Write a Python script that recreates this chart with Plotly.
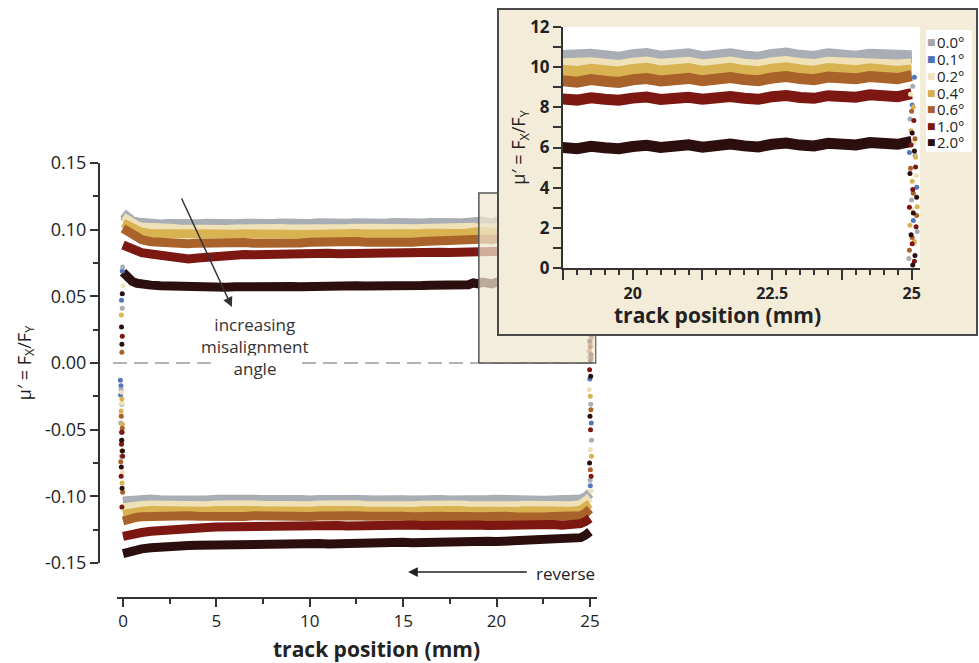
import plotly.graph_objects as go

# ---------------- data ----------------
ANGLES = ["0.0°", "0.1°", "0.2°", "0.4°", "0.6°", "1.0°", "2.0°"]
COLORS = ["#a9adb4", "#5677bb", "#efe2b8", "#d9b352", "#a8622a", "#7c1711", "#2c0e0f"]
LEGEND_COLORS = ["#a6a6a6", "#4f72b8", "#efe4c2", "#d6b04c", "#a6602c", "#7c1410", "#2a0e10"]

# forward sweep, track positions (mm)
X_FWD = [0, 0.25, 0.5, 0.75, 1, 1.5, 2, 2.5, 3, 3.5, 4, 4.5, 5, 5.5, 6, 6.5, 7, 7.5, 8, 8.5,
         9, 9.5, 10, 10.5, 11, 11.5, 12, 12.5, 13, 13.5, 14, 14.5, 15, 15.5, 16, 16.5, 17, 17.5, 18, 18.5,
         18.75, 19, 19.25, 19.5, 19.75, 20, 20.25, 20.5, 20.75, 21, 21.25, 21.5, 21.75, 22, 22.25, 22.5,
         22.75, 23, 23.25, 23.5, 23.75, 24, 24.25, 24.5, 24.75, 25]

F00 = [0.1125, 0.1088, 0.1068, 0.1058, 0.1052, 0.1046, 0.1043, 0.1047, 0.1042, 0.1040,
       0.1045, 0.1048, 0.1043, 0.1040, 0.1044, 0.1049, 0.1045, 0.1041, 0.1046, 0.1050,
       0.1045, 0.1042, 0.1047, 0.1051, 0.1046, 0.1043, 0.1048, 0.1052, 0.1047, 0.1044,
       0.1049, 0.1053, 0.1048, 0.1045, 0.1050, 0.1054, 0.1049, 0.1046, 0.1051, 0.1055,
       0.1060, 0.1053, 0.1064, 0.1057, 0.1049, 0.1062, 0.1068, 0.1055, 0.1061, 0.1066,
       0.1052, 0.1058, 0.1067, 0.1056, 0.1050, 0.1063, 0.1070, 0.1059, 0.1053, 0.1066,
       0.1061, 0.1055, 0.1064, 0.1058, 0.1051, 0.1057]
F01 = [0.1105, 0.1075, 0.1060, 0.1050, 0.1044, 0.1039, 0.1036, 0.1040, 0.1037, 0.1034,
       0.1038, 0.1041, 0.1037, 0.1035, 0.1039, 0.1042, 0.1038, 0.1036, 0.1040, 0.1043,
       0.1039, 0.1037, 0.1041, 0.1044, 0.1040, 0.1038, 0.1042, 0.1045, 0.1041, 0.1039,
       0.1043, 0.1046, 0.1042, 0.1040, 0.1044, 0.1047, 0.1043, 0.1041, 0.1045, 0.1048,
       0.1050, 0.1044, 0.1055, 0.1047, 0.1041, 0.1053, 0.1058, 0.1046, 0.1051, 0.1056,
       0.1043, 0.1049, 0.1057, 0.1047, 0.1042, 0.1054, 0.1060, 0.1050, 0.1045, 0.1056,
       0.1052, 0.1046, 0.1055, 0.1049, 0.1043, 0.1047]
F02 = [0.1095, 0.1070, 0.1045, 0.1030, 0.1020, 0.1012, 0.1007, 0.1010, 0.1005, 0.1002,
       0.1006, 0.1009, 0.1004, 0.1001, 0.1005, 0.1008, 0.1004, 0.1002, 0.1006, 0.1009,
       0.1005, 0.1003, 0.1007, 0.1010, 0.1006, 0.1004, 0.1008, 0.1011, 0.1007, 0.1005,
       0.1009, 0.1012, 0.1008, 0.1006, 0.1010, 0.1013, 0.1009, 0.1007, 0.1011, 0.1014,
       0.1018, 0.1012, 0.1022, 0.1015, 0.1009, 0.1020, 0.1025, 0.1014, 0.1019, 0.1024,
       0.1011, 0.1017, 0.1025, 0.1015, 0.1010, 0.1022, 0.1028, 0.1018, 0.1013, 0.1024,
       0.1020, 0.1014, 0.1023, 0.1017, 0.1011, 0.1016]
F04 = [0.1050, 0.1030, 0.1005, 0.0990, 0.0980, 0.0972, 0.0968, 0.0971, 0.0966, 0.0963,
       0.0967, 0.0970, 0.0965, 0.0962, 0.0966, 0.0969, 0.0965, 0.0963, 0.0967, 0.0970,
       0.0966, 0.0964, 0.0968, 0.0971, 0.0967, 0.0965, 0.0969, 0.0972, 0.0968, 0.0966,
       0.0970, 0.0973, 0.0969, 0.0967, 0.0971, 0.0974, 0.0970, 0.0968, 0.0972, 0.0975,
       0.0985, 0.0978, 0.0990, 0.0982, 0.0976, 0.0988, 0.0994, 0.0981, 0.0987, 0.0993,
       0.0979, 0.0985, 0.0994, 0.0983, 0.0977, 0.0990, 0.0997, 0.0986, 0.0980, 0.0993,
       0.0988, 0.0982, 0.0992, 0.0985, 0.0979, 0.0986]
F06 = [0.1010, 0.0985, 0.0960, 0.0940, 0.0925, 0.0910, 0.0902, 0.0905, 0.0898, 0.0895,
       0.0899, 0.0902, 0.0897, 0.0895, 0.0900, 0.0904, 0.0899, 0.0897, 0.0902, 0.0906,
       0.0902, 0.0900, 0.0905, 0.0909, 0.0904, 0.0902, 0.0907, 0.0911, 0.0906, 0.0904,
       0.0909, 0.0913, 0.0908, 0.0906, 0.0911, 0.0915, 0.0910, 0.0908, 0.0913, 0.0917,
       0.0932, 0.0925, 0.0938, 0.0930, 0.0924, 0.0937, 0.0943, 0.0931, 0.0938, 0.0944,
       0.0932, 0.0939, 0.0948, 0.0938, 0.0933, 0.0946, 0.0953, 0.0943, 0.0938, 0.0951,
       0.0947, 0.0942, 0.0953, 0.0947, 0.0943, 0.0958]
F10 = [0.0885, 0.0868, 0.0852, 0.0838, 0.0828, 0.0818, 0.0808, 0.0795, 0.0786, 0.0780,
       0.0788, 0.0796, 0.0802, 0.0806, 0.0810, 0.0813, 0.0811, 0.0814, 0.0817, 0.0815,
       0.0818, 0.0820, 0.0817, 0.0821, 0.0823, 0.0820, 0.0822, 0.0825, 0.0822, 0.0824,
       0.0827, 0.0824, 0.0826, 0.0829, 0.0826, 0.0828, 0.0831, 0.0828, 0.0830, 0.0833,
       0.0842, 0.0836, 0.0847, 0.0840, 0.0835, 0.0846, 0.0851, 0.0839, 0.0845, 0.0850,
       0.0840, 0.0846, 0.0854, 0.0845, 0.0840, 0.0853, 0.0859, 0.0849, 0.0845, 0.0858,
       0.0855, 0.0850, 0.0862, 0.0857, 0.0853, 0.0868]
F20 = [0.0680, 0.0640, 0.0612, 0.0598, 0.0590, 0.0584, 0.0580, 0.0576, 0.0573, 0.0571,
       0.0569, 0.0572, 0.0570, 0.0568, 0.0571, 0.0574, 0.0571, 0.0569, 0.0573, 0.0576,
       0.0573, 0.0571, 0.0575, 0.0578, 0.0575, 0.0573, 0.0577, 0.0580, 0.0577, 0.0575,
       0.0579, 0.0582, 0.0579, 0.0577, 0.0581, 0.0584, 0.0581, 0.0579, 0.0583, 0.0587,
       0.0600, 0.0594, 0.0606, 0.0599, 0.0594, 0.0605, 0.0611, 0.0600, 0.0607, 0.0613,
       0.0602, 0.0609, 0.0617, 0.0608, 0.0603, 0.0616, 0.0622, 0.0612, 0.0608, 0.0621,
       0.0618, 0.0613, 0.0625, 0.0620, 0.0616, 0.0630]

# reverse sweep
X_REV = [0, 0.25, 0.5, 0.75, 1, 1.5, 2, 2.5, 3, 3.5, 4, 4.5, 5, 5.5, 6, 6.5, 7, 7.5, 8, 8.5,
         9, 9.5, 10, 10.5, 11, 11.5, 12, 12.5, 13, 13.5, 14, 14.5, 15, 15.5, 16, 16.5, 17, 17.5,
         18, 18.5, 19, 19.5, 20, 20.5, 21, 21.5, 22, 22.5, 23, 23.5, 24, 24.5, 24.75, 25]
R00 = [-0.1035, -0.1030, -0.1027, -0.1025, -0.1024, -0.1021, -0.1025, -0.1028, -0.1023, -0.1020,
       -0.1024, -0.1027, -0.1022, -0.1019, -0.1023, -0.1026, -0.1021, -0.1024, -0.1028, -0.1023,
       -0.1020, -0.1024, -0.1027, -0.1022, -0.1019, -0.1023, -0.1026, -0.1021, -0.1025, -0.1029,
       -0.1024, -0.1021, -0.1025, -0.1028, -0.1023, -0.1020, -0.1024, -0.1027, -0.1022, -0.1026,
       -0.1029, -0.1024, -0.1021, -0.1025, -0.1028, -0.1023, -0.1026, -0.1030, -0.1027, -0.1025,
       -0.1028, -0.1020, -0.1005, -0.0975]
R01 = [-0.1040, -0.1036, -0.1032, -0.1030, -0.1029, -0.1026, -0.1030, -0.1033, -0.1028, -0.1025,
       -0.1029, -0.1032, -0.1027, -0.1024, -0.1028, -0.1031, -0.1026, -0.1029, -0.1033, -0.1028,
       -0.1025, -0.1029, -0.1032, -0.1027, -0.1024, -0.1028, -0.1031, -0.1026, -0.1030, -0.1034,
       -0.1029, -0.1026, -0.1030, -0.1033, -0.1028, -0.1025, -0.1029, -0.1032, -0.1027, -0.1031,
       -0.1034, -0.1029, -0.1026, -0.1030, -0.1033, -0.1028, -0.1031, -0.1035, -0.1032, -0.1030,
       -0.1033, -0.1026, -0.1010, -0.0980]
R02 = [-0.1085, -0.1078, -0.1073, -0.1070, -0.1068, -0.1065, -0.1068, -0.1071, -0.1066, -0.1063,
       -0.1067, -0.1070, -0.1065, -0.1062, -0.1066, -0.1069, -0.1064, -0.1067, -0.1071, -0.1066,
       -0.1063, -0.1067, -0.1070, -0.1065, -0.1062, -0.1066, -0.1069, -0.1064, -0.1068, -0.1072,
       -0.1067, -0.1064, -0.1068, -0.1071, -0.1066, -0.1063, -0.1067, -0.1070, -0.1065, -0.1069,
       -0.1072, -0.1067, -0.1064, -0.1068, -0.1071, -0.1066, -0.1069, -0.1073, -0.1070, -0.1068,
       -0.1070, -0.1062, -0.1045, -0.1010]
R04 = [-0.1135, -0.1125, -0.1118, -0.1114, -0.1111, -0.1107, -0.1110, -0.1113, -0.1108, -0.1105,
       -0.1109, -0.1112, -0.1107, -0.1104, -0.1108, -0.1111, -0.1106, -0.1109, -0.1113, -0.1108,
       -0.1105, -0.1109, -0.1112, -0.1107, -0.1104, -0.1108, -0.1111, -0.1106, -0.1110, -0.1114,
       -0.1109, -0.1106, -0.1110, -0.1113, -0.1108, -0.1105, -0.1109, -0.1112, -0.1107, -0.1111,
       -0.1114, -0.1109, -0.1106, -0.1110, -0.1113, -0.1108, -0.1111, -0.1115, -0.1112, -0.1110,
       -0.1112, -0.1104, -0.1088, -0.1055]
R06 = [-0.1185, -0.1172, -0.1163, -0.1157, -0.1153, -0.1148, -0.1150, -0.1153, -0.1148, -0.1145,
       -0.1149, -0.1152, -0.1147, -0.1144, -0.1148, -0.1151, -0.1146, -0.1149, -0.1153, -0.1148,
       -0.1145, -0.1149, -0.1152, -0.1147, -0.1144, -0.1148, -0.1151, -0.1146, -0.1150, -0.1154,
       -0.1149, -0.1146, -0.1150, -0.1153, -0.1148, -0.1145, -0.1149, -0.1152, -0.1147, -0.1151,
       -0.1154, -0.1149, -0.1146, -0.1150, -0.1153, -0.1148, -0.1151, -0.1155, -0.1152, -0.1150,
       -0.1152, -0.1145, -0.1128, -0.1095]
R10 = [-0.1300, -0.1290, -0.1282, -0.1276, -0.1271, -0.1262, -0.1255, -0.1248, -0.1242, -0.1238,
       -0.1236, -0.1233, -0.1230, -0.1228, -0.1231, -0.1227, -0.1224, -0.1228, -0.1225, -0.1222,
       -0.1226, -0.1223, -0.1220, -0.1224, -0.1221, -0.1218, -0.1222, -0.1219, -0.1223, -0.1220,
       -0.1217, -0.1221, -0.1218, -0.1215, -0.1219, -0.1216, -0.1220, -0.1217, -0.1214, -0.1218,
       -0.1215, -0.1219, -0.1216, -0.1213, -0.1217, -0.1214, -0.1218, -0.1215, -0.1212, -0.1216,
       -0.1213, -0.1205, -0.1190, -0.1165]
R20 = [-0.1430, -0.1418, -0.1408, -0.1400, -0.1394, -0.1385, -0.1378, -0.1374, -0.1371, -0.1369,
       -0.1367, -0.1365, -0.1367, -0.1364, -0.1362, -0.1365, -0.1362, -0.1360, -0.1363, -0.1360,
       -0.1357, -0.1360, -0.1357, -0.1354, -0.1357, -0.1354, -0.1351, -0.1354, -0.1351, -0.1348,
       -0.1351, -0.1348, -0.1345, -0.1348, -0.1345, -0.1342, -0.1345, -0.1342, -0.1339, -0.1342,
       -0.1339, -0.1336, -0.1339, -0.1336, -0.1333, -0.1336, -0.1333, -0.1330, -0.1333, -0.1328,
       -0.1322, -0.1310, -0.1292, -0.1265]

# reversal transients at the start (x ~ 0) and at the end (x ~ 25) of the track
START_X = [[-0.10, -0.06, -0.12, -0.08, -0.04, -0.02],
           [-0.14, -0.11, -0.13, -0.09, -0.08, -0.04],
           [-0.08, -0.05, -0.11, -0.07, -0.03, 0.00],
           [-0.06, -0.10, -0.03, -0.07, -0.05, -0.09],
           [-0.09, -0.04, -0.07, -0.12, -0.02, -0.06],
           [-0.05, -0.08, -0.02, -0.10, -0.06, -0.04],
           [-0.07, -0.03, -0.09, -0.05, -0.06, -0.08, -0.04]]
START_Y = [[-0.020, -0.031, -0.045, -0.070, 0.041, 0.072],
           [-0.013, -0.017, -0.024, -0.052, 0.047, 0.069],
           [-0.022, -0.030, -0.038, -0.060, -0.082, 0.058],
           [-0.027, -0.036, -0.046, -0.066, -0.090, 0.036],
           [-0.040, -0.049, -0.058, -0.074, -0.097, 0.008],
           [-0.052, -0.061, -0.070, -0.085, -0.108, 0.020],
           [-0.058, -0.066, -0.078, -0.094, 0.014, 0.027, 0.052]]
END_X = [[25.02, 24.97, 25.06, 25.00, 25.10, 24.95, 25.04, 25.08, 25.01],
         [25.05, 25.01, 24.96, 25.09, 25.03, 24.99, 25.07, 25.02],
         [24.98, 25.04, 25.08, 25.00, 25.06, 24.96, 25.02, 25.05],
         [25.03, 24.99, 25.07, 25.01, 25.10, 24.97, 25.05, 25.02, 25.08],
         [25.00, 25.06, 24.98, 25.03, 25.09, 25.01, 24.96, 25.05, 25.02],
         [25.04, 24.99, 25.07, 25.02, 24.96, 25.08, 25.01, 25.05, 24.98, 25.03, 25.06],
         [25.01, 25.05, 24.97, 25.09, 25.03, 24.99, 25.06, 25.02, 25.04, 25.00, 24.98]]
END_Y = [[0.0905, 0.0742, 0.0561, 0.0338, 0.0182, 0.0047, -0.031, -0.058, -0.088],
         [0.0950, 0.0812, 0.0575, 0.0402, 0.0236, -0.012, -0.045, -0.092],
         [0.0865, 0.0628, 0.0460, 0.0292, 0.0121, -0.020, -0.065, -0.096],
         [0.0802, 0.0683, 0.0551, 0.0432, 0.0305, 0.0213, 0.0132, -0.025, -0.070],
         [0.0781, 0.0643, 0.0497, 0.0372, 0.0261, 0.0152, 0.0088, -0.035, -0.080],
         [0.0735, 0.0612, 0.0503, 0.0391, 0.0302, 0.0205, 0.0121, 0.0034, -0.005, -0.050, -0.085],
         [0.0672, 0.0583, 0.0471, 0.0352, 0.0274, 0.0165, 0.0062, 0.0015, -0.010, -0.040, -0.075]]

FWD = [F00, F01, F02, F04, F06, F10, F20]
REV = [R00, R01, R02, R04, R06, R10, R20]
DRAW_ORDER = [1, 0, 2, 3, 4, 5, 6]

# axis ticks
X_TICKS = [0, 5, 10, 15, 20, 25]
Y_TICKS = [-0.15, -0.10, -0.05, 0.0, 0.05, 0.10, 0.15]
Y_TICK_TEXT = ["-0.15", "-0.10", "-0.05", "0.00", "0.05", "0.10", "0.15"]
INSET_X_TICKS = [18.75, 20, 21.25, 22.5, 23.75, 25]
INSET_X_TEXT = ["", "20", "", "22.5", "", "25"]
INSET_X_RANGE = [18.75, 25.15]
INSET_Y_RANGE = [0, 12]
INSET_SCALE = 100          # inset axis shows mu' x 100
ZOOM_BOX_X = [19.05, 25.32]
ZOOM_BOX_Y = [0.0, 0.1275]

# ---------------- figure ----------------
W, H = 979, 663
def px(x):
    return x / W
def py(y):
    return 1 - y / H

FONT = "Open Sans"
AX = "#333333"
fig = go.Figure()

# main plot bands
for i in DRAW_ORDER:
    fig.add_trace(go.Scatter(x=X_FWD, y=FWD[i], mode="lines", line=dict(color=COLORS[i], width=9),
                             hoverinfo="skip", xaxis="x", yaxis="y"))
    fig.add_trace(go.Scatter(x=X_REV, y=REV[i], mode="lines", line=dict(color=COLORS[i], width=9),
                             hoverinfo="skip", xaxis="x", yaxis="y"))
for i in DRAW_ORDER:
    fig.add_trace(go.Scatter(x=START_X[i] + END_X[i], y=START_Y[i] + END_Y[i], mode="markers",
                             marker=dict(color=COLORS[i], size=5), hoverinfo="skip",
                             xaxis="x", yaxis="y"))

# translucent box marking the zoomed region
fig.add_trace(go.Scatter(
    x=[ZOOM_BOX_X[0], ZOOM_BOX_X[1], ZOOM_BOX_X[1], ZOOM_BOX_X[0], ZOOM_BOX_X[0]],
    y=[ZOOM_BOX_Y[0], ZOOM_BOX_Y[0], ZOOM_BOX_Y[1], ZOOM_BOX_Y[1], ZOOM_BOX_Y[0]],
    mode="lines", fill="toself", fillcolor="rgba(240,232,208,0.72)",
    line=dict(color="#555555", width=1.5), hoverinfo="skip", xaxis="x", yaxis="y"))

# empty trace to create the inset frame layer (x2/y2)
fig.add_trace(go.Scatter(x=[None], y=[None], mode="markers", hoverinfo="skip",
                         xaxis="x2", yaxis="y2"))

# inset traces (x3/y3)
for i in DRAW_ORDER:
    xs = [x for x in X_FWD if x >= 18.5]
    ys = [v * INSET_SCALE for x, v in zip(X_FWD, FWD[i]) if x >= 18.5]
    fig.add_trace(go.Scatter(x=xs, y=ys, mode="lines", line=dict(color=COLORS[i], width=11),
                             hoverinfo="skip", xaxis="x3", yaxis="y3"))
for i in DRAW_ORDER:
    fig.add_trace(go.Scatter(x=END_X[i], y=[v * INSET_SCALE for v in END_Y[i]], mode="markers",
                             marker=dict(color=COLORS[i], size=5), hoverinfo="skip",
                             xaxis="x3", yaxis="y3"))

tick_common = dict(showline=True, linecolor=AX, linewidth=2, ticks="outside", tickcolor=AX,
                   tickwidth=2, showgrid=False, zeroline=False, automargin=False)

fig.update_layout(
    width=W, height=H, margin=dict(l=0, r=0, t=0, b=0, autoexpand=False),
    paper_bgcolor="white", plot_bgcolor="rgba(0,0,0,0)", showlegend=False,
    font=dict(family=FONT, color="#222222"),
    xaxis=dict(domain=[px(117.4), px(596.5)], range=[-0.3, 25.35], anchor="free", position=py(598),
               tickvals=X_TICKS, ticklen=8, tickfont=dict(size=17),
               minor=dict(tickmode="linear", tick0=0, dtick=2.5, ticklen=5, tickwidth=2,
                          tickcolor=AX, ticks="outside"),
               **tick_common),
    yaxis=dict(domain=[py(563), py(163)], range=[-0.15, 0.15], anchor="free", position=px(99),
               tickvals=Y_TICKS, ticktext=Y_TICK_TEXT, ticklen=8, tickfont=dict(size=18),
               minor=dict(tickmode="linear", tick0=0, dtick=0.025, ticklen=5, tickwidth=2,
                          tickcolor=AX, ticks="outside"),
               title=dict(text="μ′ = F<sub>X</sub>/F<sub>Y</sub>", font=dict(size=18), standoff=8),
               **tick_common),
    xaxis2=dict(domain=[px(490), 1.0], range=[490, 979], anchor="y2", visible=False),
    yaxis2=dict(domain=[py(345), 1.0], range=[345, 0], anchor="x2", visible=False),
    xaxis3=dict(domain=[px(563), px(920)], range=INSET_X_RANGE, anchor="y3",
                tickvals=INSET_X_TICKS, ticktext=INSET_X_TEXT, ticklen=10,
                tickfont=dict(size=16, weight="bold"),
                minor=dict(tickmode="linear", tick0=18.75, dtick=0.25, ticklen=5, tickwidth=2,
                           tickcolor=AX, ticks="outside"),
                **tick_common),
    yaxis3=dict(domain=[py(268), py(27)], range=INSET_Y_RANGE, anchor="x3",
                dtick=2, ticklen=8, tickfont=dict(size=17, weight="bold"),
                minor=dict(tickmode="linear", tick0=0, dtick=1, ticklen=8, tickwidth=2,
                           tickcolor=AX, ticks="outside"),
                title=dict(text="μ′ = F<sub>X</sub>/F<sub>Y</sub>", font=dict(size=18), standoff=0),
                **tick_common),
)

shapes = [
    # dashed zero line
    dict(type="line", xref="paper", yref="y", x0=px(113), x1=px(596), y0=0, y1=0,
         line=dict(color="#9a9a9a", width=1.5, dash="14px,7px"), layer="below"),
    # inset frame
    dict(type="rect", xref="x2", yref="y2", x0=498, x1=977, y0=9, y1=335,
         fillcolor="#f3ecd9", line=dict(color="#4a4a4a", width=2), layer="below"),
    # inset legend background
    dict(type="rect", xref="x2", yref="y2", x0=926, x1=972, y0=30, y1=152,
         fillcolor="white", line=dict(width=0), layer="below"),
    # inset plotting area
    dict(type="rect", xref="x3", yref="y3", x0=INSET_X_RANGE[0], x1=INSET_X_RANGE[1],
         y0=INSET_Y_RANGE[0], y1=INSET_Y_RANGE[1], fillcolor="white", line=dict(width=0),
         layer="below"),
]
fig.update_layout(shapes=shapes)

ann = [
    dict(x=5.83, y=0.042, ax=3.1, ay=0.1245, xref="x", yref="y", axref="x", ayref="y",
         text="", showarrow=True, arrowhead=2, arrowsize=1.3, arrowwidth=1.5, arrowcolor="#333"),
    dict(x=7.07, y=0.0203, xref="x", yref="y", text="increasing<br>misalignment",
         showarrow=False, font=dict(size=17, color="#333")),
    dict(x=7.07, y=-0.0038, xref="x", yref="y", text="angle", showarrow=False,
         font=dict(size=17, color="#333"), bgcolor="white", width=78),
    dict(x=15.26, y=py(572), ax=21.7, ay=0, xref="x", yref="paper", axref="x", ayref="pixel",
         text="", showarrow=True, arrowhead=2, arrowsize=1.3, arrowwidth=1.5, arrowcolor="#222"),
    dict(x=px(534), y=py(573), xref="paper", yref="paper", text="reverse", showarrow=False,
         xanchor="left", yanchor="middle", font=dict(size=17, color="#222")),
    # x-axis titles
    dict(x=px(376), y=py(649), xref="paper", yref="paper", text="<b>track position (mm)</b>",
         showarrow=False, xanchor="center", yanchor="middle", font=dict(size=21, color="#222")),
    dict(x=px(717), y=py(315), xref="paper", yref="paper", text="<b>track position (mm)</b>",
         showarrow=False, xanchor="center", yanchor="middle", font=dict(size=21, color="#222")),
]
LEG_Y = [42, 59, 76, 93, 109, 126, 142]
for i in range(7):
    ann.append(dict(x=px(931), y=py(LEG_Y[i]), xref="paper", yref="paper", text="■",
                    showarrow=False, xanchor="center", yanchor="middle", height=12,
                    font=dict(size=9, color=LEGEND_COLORS[i], family="DejaVu Sans")))
    ann.append(dict(x=px(936), y=py(LEG_Y[i]), xref="paper", yref="paper", text=ANGLES[i],
                    showarrow=False, xanchor="left", yanchor="middle", height=16, borderpad=0,
                    font=dict(size=15, color="#222")))
fig.update_layout(annotations=ann)

fig.write_html("out.html")
